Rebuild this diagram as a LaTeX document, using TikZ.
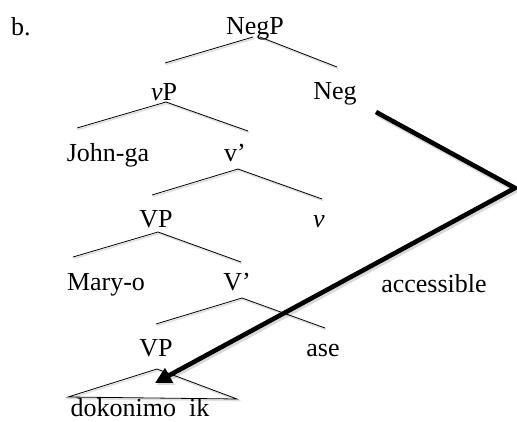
\documentclass[tikz,border=0pt]{standalone}
\usepackage{fontspec}
\setmainfont{Liberation Serif}
\usetikzlibrary{calc,arrows.meta}
\begin{document}
\begin{tikzpicture}[x=1pt,y=-1pt,
  lbl/.style={anchor=base,inner sep=0pt,font=\fontsize{26}{30}\selectfont},
  branch/.style={line width=0.8pt,
    preaction={draw=black,opacity=0.12,line width=1.6pt,
      transform canvas={shift={(1pt,-1.5pt)}}}},
  path arrow/.style={line width=4.6pt,line join=miter,
    -{Triangle[length=16pt,width=16pt]},
    preaction={draw=black,opacity=0.15,line width=5.5pt,
      transform canvas={shift={(1.5pt,-2pt)}}}}]
\useasboundingbox (0,0) rectangle (517,421);

% labels
\node[lbl] (b)    at (21,35)   {b.};
\node[lbl] (negp) at (255,34)  {NegP};
\node[lbl] (vp)   at (164,100) {\textit{v}P};
\node[lbl] (neg)  at (335,99)  {Neg};
\node[lbl] (john) at (108,161) {John-ga};
\node[lbl] (vbar) at (235,161) {v’};
\node[lbl] (VPa)  at (156,227) {VP};
\node[lbl] (vhd)  at (319,227) {\textit{v}};
\node[lbl] (mary) at (106,290) {Mary-o};
\node[lbl] (Vbar) at (237,290) {V’};
\node[lbl] (VPb)  at (156,356) {VP};
\node[lbl] (ase)  at (323,356) {ase};
\node[lbl] (acc)  at (434,292) {accessible};
\node[lbl] (dok)  at (140,416) {dokonimo\hspace{0.5em}ik};

% tree branches
\draw[branch] ($(negp.base)+(-2,3)$) -- ($(vp.base)+(1,-37)$);
\draw[branch] ($(negp.base)+(5,3)$)  -- ($(neg.base)+(2,-32)$);
\draw[branch] ($(vp.base)+(2,2)$)    -- ($(john.base)+(-31,-33)$);
\draw[branch] ($(vp.base)+(2,2)$)    -- ($(vbar.base)+(13,-30)$);
\draw[branch] ($(vbar.base)+(3,8)$)  -- ($(VPa.base)+(-4,-32)$);
\draw[branch] ($(vbar.base)+(3,8)$)  -- ($(vhd.base)+(3,-28)$);
\draw[branch] ($(VPa.base)+(2,5)$)   -- ($(mary.base)+(-33,-33)$);
\draw[branch] ($(VPa.base)+(2,5)$)   -- ($(Vbar.base)+(4,-28)$);
\draw[branch] ($(Vbar.base)+(5,8)$)  -- ($(VPb.base)+(0,-32)$);
\draw[branch] ($(Vbar.base)+(5,8)$)  -- ($(ase.base)+(2,-28)$);

% roof over the lower VP
\coordinate (apex) at ($(VPb.base)+(1,13)$);
\draw[branch] (apex) -- ($(dok.base)+(-72,-19)$) -- ($(dok.base)+(97,-17)$) -- cycle;

% accessibility path from Neg down to the lower VP
\coordinate (bend) at (515,188);
\draw[path arrow] ($(neg.base)+(41,13)$) -- (bend) -- ($(VPb.base)+(-1,27)$);
\end{tikzpicture}
\end{document}
